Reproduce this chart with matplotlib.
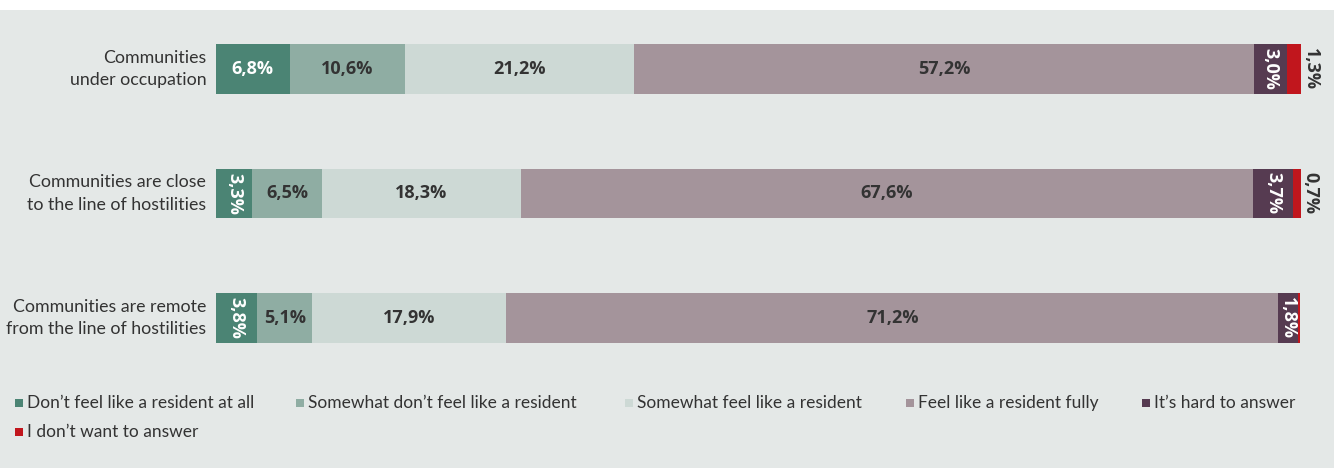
import numpy as np
import matplotlib.pyplot as plt
from matplotlib.patches import Rectangle

plt.rcParams['font.family'] = ['Lato', 'DejaVu Sans']

# Survey shares per community group (percent)
groups = ['Communities\nunder occupation',
          'Communities are close\nto the line of hostilities',
          'Communities are remote\nfrom the line of hostilities']
answers = ["Don\u2019t feel like a resident at all",
           "Somewhat don\u2019t feel like a resident",
           "Somewhat feel like a resident",
           "Feel like a resident fully",
           "It\u2019s hard to answer",
           "I don\u2019t want to answer"]
not_at_all = [6.8, 3.3, 3.8]
somewhat_not = [10.6, 6.5, 5.1]
somewhat = [21.2, 18.3, 17.9]
fully = [57.2, 67.6, 71.2]
hard = [3.0, 3.7, 1.8]
no_answer = [1.3, 0.7, 0.2]

colors = ['#4b8474', '#8fada3', '#cdd9d5', '#a4949b', '#563b51', '#c1161d']
text_colors = ['white', '#333333', '#333333', '#333333', 'white', '#333333']
# narrow segments get their label turned on its side
vertical_below = 4.0
num_font = ['Open Sans', 'DejaVu Sans']

series = [not_at_all, somewhat_not, somewhat, fully, hard, no_answer]

W, H = 1334, 468
fig = plt.figure(figsize=(W / 100, H / 100), dpi=100)
fig.patch.set_facecolor('#e4e8e7')
fig.patches.append(Rectangle((0, 1 - 10 / H), 1, 10 / H, transform=fig.transFigure,
                             facecolor='white', edgecolor='none', zorder=0))

ax = fig.add_axes([216 / W, 1 - 343 / H, 1085 / W, 299 / H])
ax.set_facecolor('none')
ax.set_xlim(0, 100.1)
ax.set_ylim(2.2, -0.2)
ax.axis('off')

y = np.arange(len(groups))
left = np.zeros(len(groups))
for vals, col, tcol in zip(series, colors, text_colors):
    vals = np.array(vals)
    ax.barh(y, vals, left=left, height=0.4, color=col, edgecolor='none')
    for i, v in enumerate(vals):
        label = f'{v:.1f}%'.replace('.', ',')
        if col == colors[-1]:
            # last answer is labelled outside the bar end
            if v >= 0.5:
                ax.text(left[i] + v + 0.05, y[i], label, family=num_font,
                        rotation=-90, ha='left', va='center', fontsize=13,
                        fontweight='bold', color='#333333')
            continue
        rot = -90 if v < vertical_below else 0
        ax.text(left[i] + v / 2, y[i], label, rotation=rot, ha='center',
                va='center', fontsize=13, fontweight='bold', color=tcol,
                family=num_font)
    left += vals

for i, g in enumerate(groups):
    ax.text(-0.9, y[i], g, ha='right', va='center', fontsize=12.8,
            color='#333333', linespacing=1.5)

# legend: five entries on the first row, the last one wraps below
leg_x = [15, 296, 625, 906, 1142, 15]
leg_y = [403, 403, 403, 403, 403, 432]
for c, name, lx, ly in zip(colors, answers, leg_x, leg_y):
    fig.patches.append(Rectangle((lx / W, 1 - (ly + 4) / H), 8 / W, 8 / H,
                                 transform=fig.transFigure, facecolor=c,
                                 edgecolor='none'))
    fig.text((lx + 12) / W, 1 - ly / H, name, ha='left', va='center',
             fontsize=12.5, color='#333333')

fig.savefig('out.png', dpi=100, facecolor=fig.get_facecolor())
